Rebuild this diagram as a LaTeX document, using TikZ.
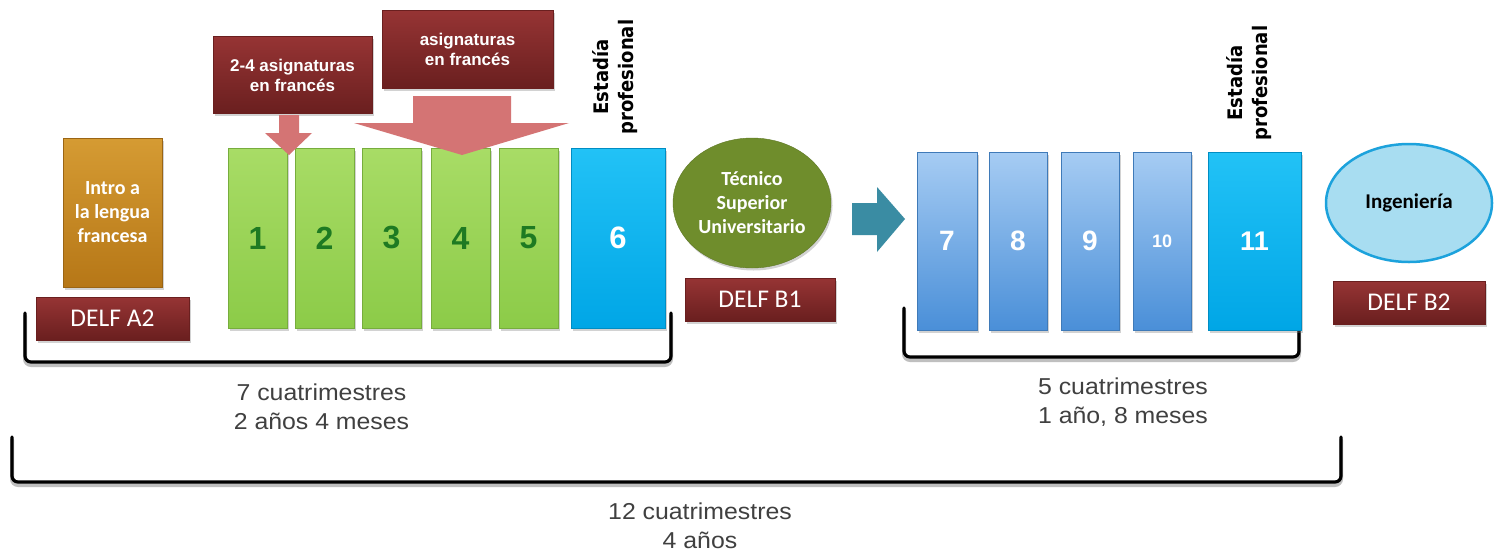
\documentclass[tikz,border=0pt]{standalone}
\usepackage{fontspec}
\setmainfont{Carlito}
\newfontfamily\numfont{Liberation Sans}
\newfontfamily\graytext[FakeStretch=1.08]{Liberation Sans}
\newfontfamily\vfont[FakeStretch=0.9]{DejaVu Sans}
\usetikzlibrary{shadows,shapes.geometric}
\definecolor{dred}{HTML}{7E2828}
\definecolor{dredtop}{HTML}{963434}
\definecolor{dredbot}{HTML}{6A1F1F}
\definecolor{gtop}{HTML}{A8DC66}
\definecolor{gbot}{HTML}{8CCB48}
\definecolor{gnum}{HTML}{1E7A22}
\definecolor{ctop}{HTML}{22C2F6}
\definecolor{cbot}{HTML}{00A6E6}
\definecolor{btop}{HTML}{A6CCF3}
\definecolor{bbot}{HTML}{4A8FD8}
\definecolor{otop}{HTML}{D59B33}
\definecolor{obot}{HTML}{B67717}
\definecolor{olive}{HTML}{6F8D2C}
\definecolor{salmon}{HTML}{D47474}
\definecolor{teal}{HTML}{3A8CA3}
\definecolor{ingfill}{HTML}{A8DDF1}
\definecolor{ingline}{HTML}{1CA2DC}
\definecolor{txtgray}{HTML}{404040}
\tikzset{
  shd/.style={drop shadow={opacity=0.35,shadow xshift=1.5pt,shadow yshift=-2.5pt}},
  redbox/.style={rectangle,shd,top color=dredtop,bottom color=dredbot,draw=dredbot,text=white,inner sep=0pt},
  greenbox/.style={rectangle,shd,top color=gtop,bottom color=gbot,draw=gbot!85!black,line width=0.6pt,text=gnum,font=\numfont\bfseries\fontsize{32}{36}\selectfont,minimum width=59pt,minimum height=180pt,inner sep=0pt},
  cyanbox/.style={rectangle,shd,top color=ctop,bottom color=cbot,draw=cbot!85!black,line width=0.6pt,text=white,inner sep=0pt},
  bluebox/.style={rectangle,shd,top color=btop,bottom color=bbot,draw=bbot!85!black,line width=0.6pt,text=white,font=\numfont\bfseries\fontsize{28}{32}\selectfont,minimum height=178pt,inner sep=0pt},
  delf/.style={redbox,minimum width=150pt,minimum height=43pt,font=\fontsize{25.5}{28}\selectfont},
  vert/.style={rotate=90,align=center,font=\vfont\bfseries\fontsize{20}{25}\selectfont,inner sep=0pt},
  brace/.style={line width=3.2pt,black,rounded corners=6pt,line cap=round},
  braceshadow/.style={line width=4pt,black!25,rounded corners=6pt,line cap=round},
  gray/.style={align=center,text=txtgray,font=\graytext\fontsize{23}{28.5}\selectfont,inner sep=0pt},
}
\begin{document}
\begin{tikzpicture}[x=1pt,y=-1pt]
\useasboundingbox (0,0) rectangle (1494,552);
\fill[white] (0,0) rectangle (1494,552);

% brackets
\coordinate (b1a) at (25,313); \coordinate (b1b) at (671,313);
\coordinate (b2a) at (904,308); \coordinate (b2b) at (1299,308);
\coordinate (b3a) at (12,437); \coordinate (b3b) at (1341,437);
\draw[braceshadow] ([yshift=-3pt]b1a) |- ([yshift=-3pt]671,362) -- ([yshift=-3pt]b1b);
\draw[braceshadow] ([yshift=-3pt]b2a) |- ([yshift=-3pt]1299,357) -- ([yshift=-3pt]b2b);
\draw[braceshadow] ([yshift=-3pt]b3a) |- ([yshift=-3pt]1341,482) -- ([yshift=-3pt]b3b);
\draw[brace] (b1a) |- (671,362) -- (b1b);
\draw[brace] (b2a) |- (1299,357) -- (b2b);
\draw[brace] (b3a) |- (1341,482) -- (b3b);

% intro
\node[rectangle,shd,top color=otop,bottom color=obot,draw=obot!85!black,minimum width=99pt,minimum height=149pt,text=white,align=center,font=\bfseries\fontsize{20}{24}\selectfont,inner sep=0pt] (intro) at (112.5,212.5) {Intro a\\la lengua\\francesa};
\node[delf,minimum width=153pt] (a2) at (112.5,318.5) {DELF A2};

% green semesters
\node[greenbox] (s1) at (257.5,238) {1};
\node[greenbox] (s2) at (324.5,238) {2};
\node[greenbox] (s3) at (391.5,238) {3};
\node[greenbox] (s4) at (460.5,238) {4};
\node[greenbox] (s5) at (528.5,238) {5};
\node[cyanbox,minimum width=94pt,minimum height=180pt,font=\numfont\bfseries\fontsize{31}{34}\selectfont] (s6) at (618,238) {6};

% asignaturas boxes
\node[redbox,minimum width=159pt,minimum height=77pt,align=center,font=\numfont\bfseries\fontsize{17}{20}\selectfont] (ab1) at (292.5,75) {2-4 asignaturas\\en francés};
\node[redbox,minimum width=171pt,minimum height=78pt,align=center,font=\numfont\bfseries\fontsize{17}{20}\selectfont] (ab2) at (467.5,49) {asignaturas\\en francés};

% pink arrows
\fill[salmon] (279,115) -- (299,115) -- (299,133) -- (312,133) -- (289,155) -- (265,133) -- (279,133) -- cycle;
\fill[salmon] (413,96) -- (511,96) -- (511,123) -- (569,123) -- (462,155) -- (354,123) -- (413,123) -- cycle;

% estadia labels
\node[vert] (e1) at (615,77) {Estadía\\profesional};
\node[vert] (e2) at (1249,83) {Estadía\\profesional};

% TSU
\node[ellipse,shd,fill=olive,draw=olive!85!black,minimum width=158pt,minimum height=130pt,inner sep=0pt,text=white,align=center,font=\bfseries\fontsize{20}{24}\selectfont] (tsu) at (752,203) {Técnico\\Superior\\Universitario};
\node[delf] (b1) at (760,299.5) {DELF B1};

% teal arrow
\fill[teal] (852,203) -- (877,203) -- (877,187) -- (905,219) -- (877,252) -- (877,235) -- (852,235) -- cycle;

% blue semesters
\node[bluebox,minimum width=60pt] (s7) at (947,241) {7};
\node[bluebox,minimum width=58pt] (s8) at (1018,241) {8};
\node[bluebox,minimum width=58pt] (s9) at (1090,241) {9};
\node[bluebox,minimum width=58pt,font=\numfont\bfseries\fontsize{18}{20}\selectfont] (s10) at (1162,241) {10};
\node[cyanbox,minimum width=93pt,minimum height=178pt,font=\numfont\bfseries\fontsize{27}{30}\selectfont] (s11) at (1254.5,241) {11};

% ingenieria
\node[ellipse,fill=ingfill,draw=ingline,line width=2.5pt,minimum width=166pt,minimum height=118pt,inner sep=0pt,font=\bfseries\fontsize{21}{24}\selectfont] (ing) at (1409,203) {Ingeniería};
\node[delf,minimum width=152pt] (b2) at (1409,302.5) {DELF B2};

% durations
\node[gray] (d1) at (321.5,407) {7 cuatrimestres\\2 años 4 meses};
\node[gray] (d2) at (1123,402) {5 cuatrimestres\\1 año, 8 meses};
\node[gray] (d3) at (700,526) {12 cuatrimestres\\4 años};
\end{tikzpicture}
\end{document}
